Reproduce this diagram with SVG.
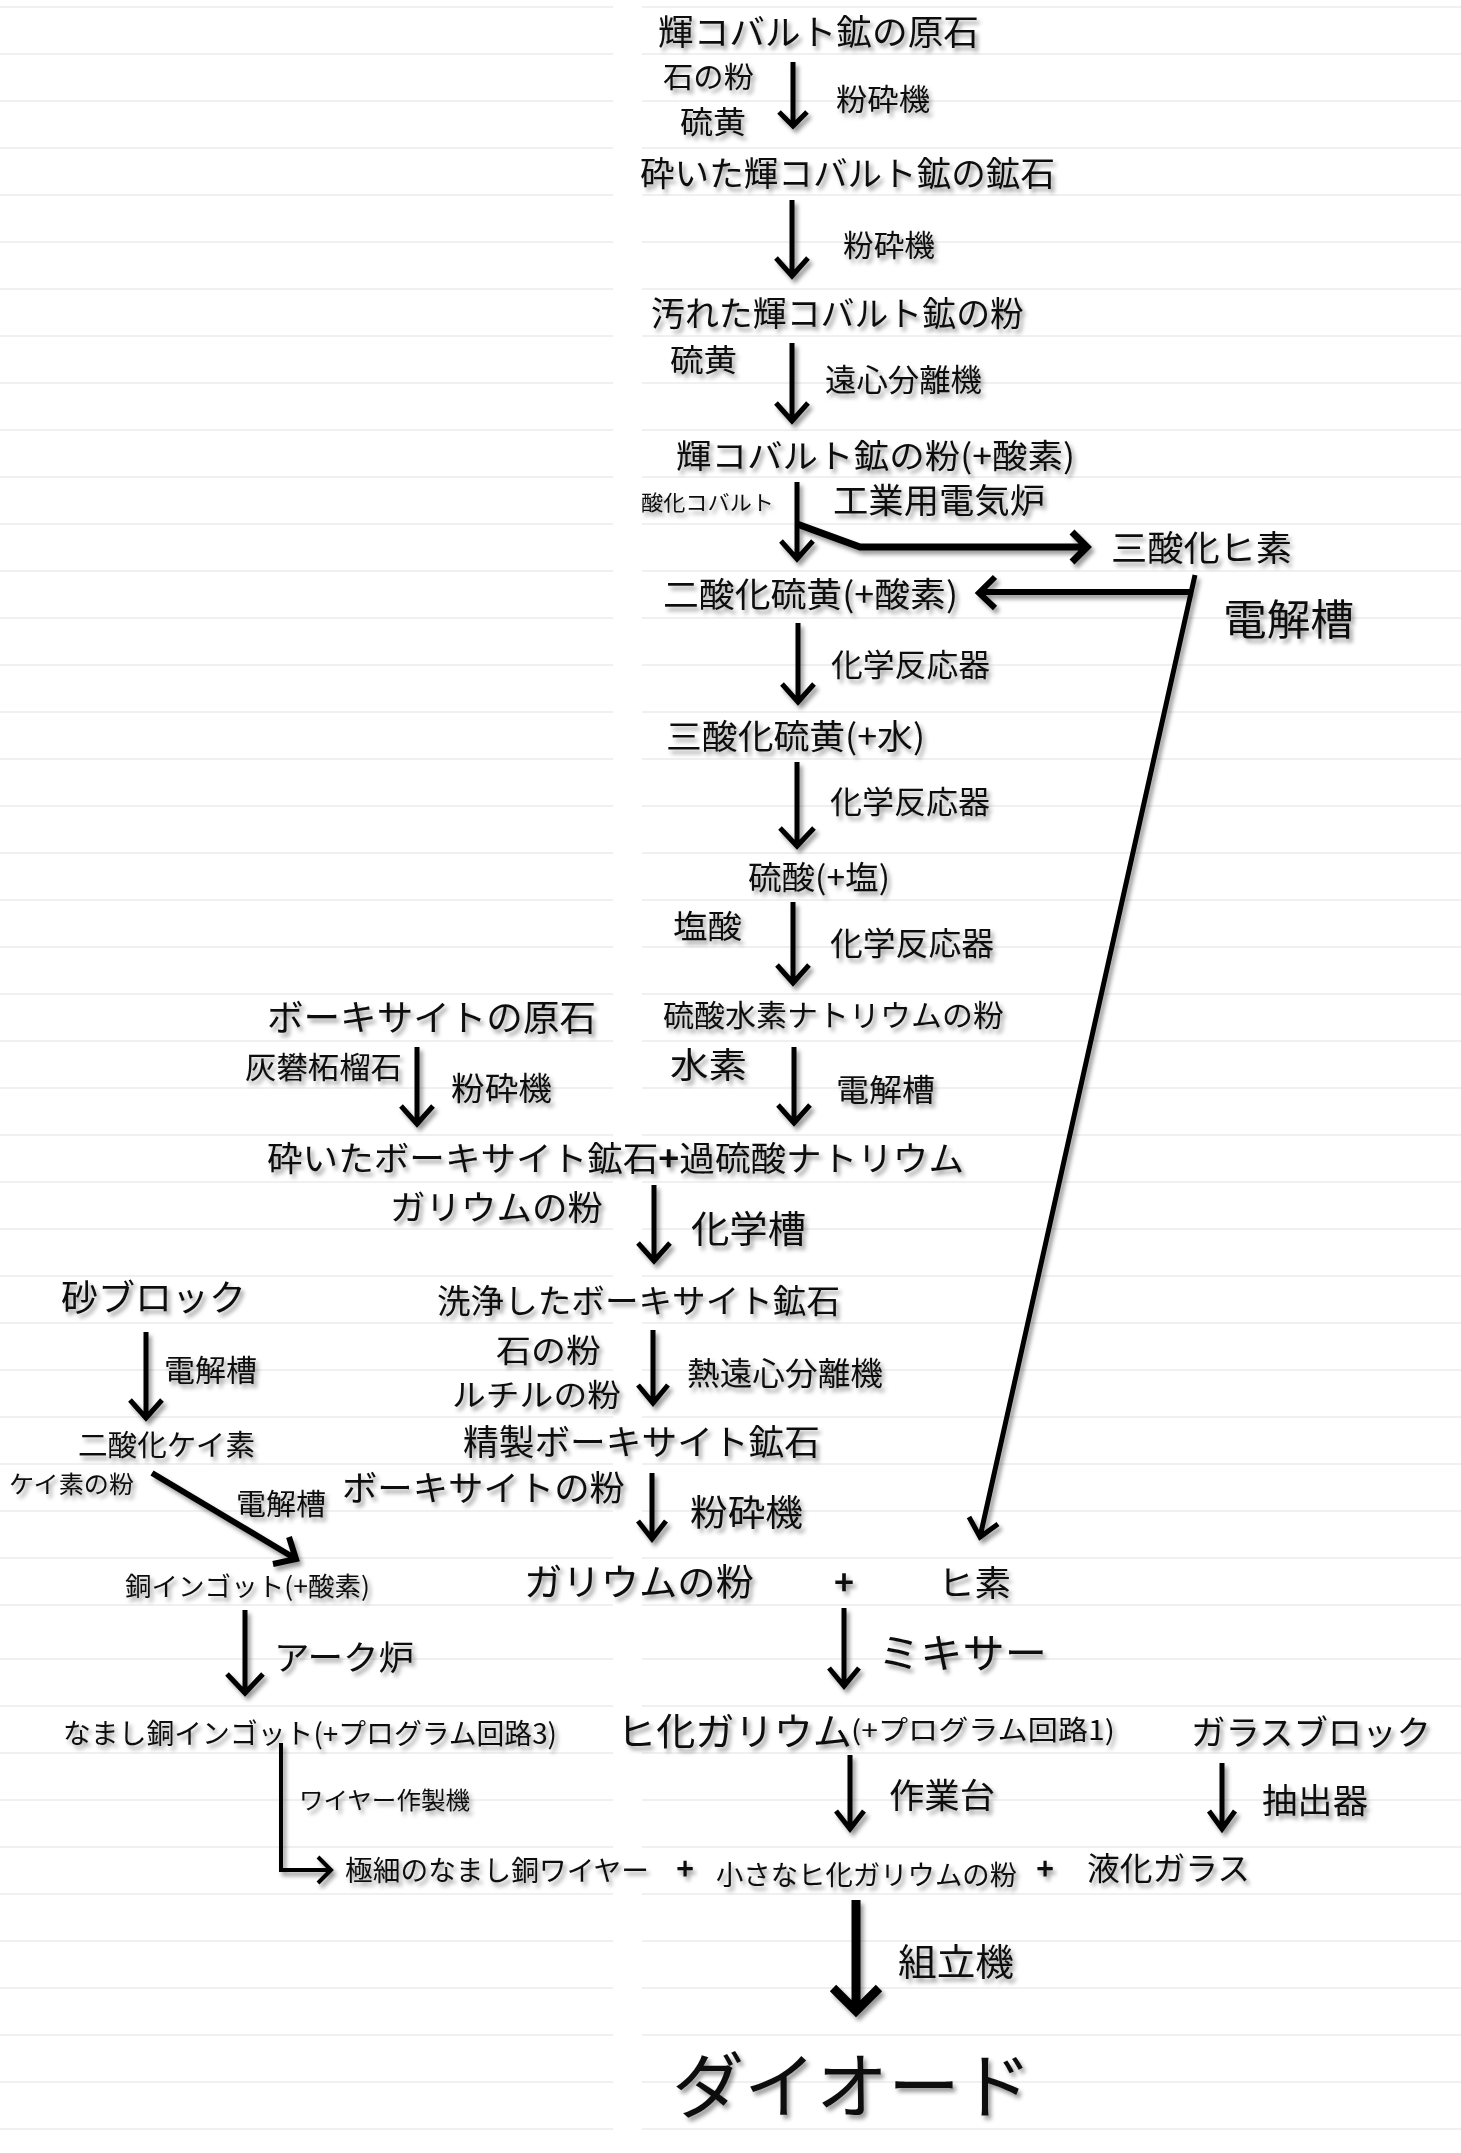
<svg xmlns="http://www.w3.org/2000/svg" width="1461" height="2153" viewBox="0 0 1461 2153">
<defs>
<filter id="sh" x="-20%" y="-20%" width="140%" height="160%">
<feDropShadow dx="3" dy="4" stdDeviation="2.2" flood-color="#000" flood-opacity="0.4"/>
</filter>
<style>
text{font-family:"Noto Sans CJK JP","Noto Sans CJK SC",sans-serif;fill:#111;}
.n{filter:url(#sh);}
.plus{font-weight:bold;text-anchor:middle;}
.b{font-weight:bold;}
.grid line{stroke:#ebebeb;stroke-width:1.6;}
.ar{fill:none;stroke:#000;stroke-width:5;stroke-linejoin:miter;stroke-miterlimit:10;}
</style>
</defs>
<rect width="1461" height="2153" fill="#fff"/>
<g class="grid" id="grid">
<line x1="0" y1="7" x2="613" y2="7"/><line x1="642" y1="7" x2="1461" y2="7"/>
<line x1="0" y1="54" x2="613" y2="54"/><line x1="642" y1="54" x2="1461" y2="54"/>
<line x1="0" y1="101" x2="613" y2="101"/><line x1="642" y1="101" x2="1461" y2="101"/>
<line x1="0" y1="148" x2="613" y2="148"/><line x1="642" y1="148" x2="1461" y2="148"/>
<line x1="0" y1="195" x2="613" y2="195"/><line x1="642" y1="195" x2="1461" y2="195"/>
<line x1="0" y1="242" x2="613" y2="242"/><line x1="642" y1="242" x2="1461" y2="242"/>
<line x1="0" y1="289" x2="613" y2="289"/><line x1="642" y1="289" x2="1461" y2="289"/>
<line x1="0" y1="336" x2="613" y2="336"/><line x1="642" y1="336" x2="1461" y2="336"/>
<line x1="0" y1="383" x2="613" y2="383"/><line x1="642" y1="383" x2="1461" y2="383"/>
<line x1="0" y1="430" x2="613" y2="430"/><line x1="642" y1="430" x2="1461" y2="430"/>
<line x1="0" y1="477" x2="613" y2="477"/><line x1="642" y1="477" x2="1461" y2="477"/>
<line x1="0" y1="524" x2="613" y2="524"/><line x1="642" y1="524" x2="1461" y2="524"/>
<line x1="0" y1="571" x2="613" y2="571"/><line x1="642" y1="571" x2="1461" y2="571"/>
<line x1="0" y1="618" x2="613" y2="618"/><line x1="642" y1="618" x2="1461" y2="618"/>
<line x1="0" y1="665" x2="613" y2="665"/><line x1="642" y1="665" x2="1461" y2="665"/>
<line x1="0" y1="712" x2="613" y2="712"/><line x1="642" y1="712" x2="1461" y2="712"/>
<line x1="0" y1="759" x2="613" y2="759"/><line x1="642" y1="759" x2="1461" y2="759"/>
<line x1="0" y1="806" x2="613" y2="806"/><line x1="642" y1="806" x2="1461" y2="806"/>
<line x1="0" y1="853" x2="613" y2="853"/><line x1="642" y1="853" x2="1461" y2="853"/>
<line x1="0" y1="900" x2="613" y2="900"/><line x1="642" y1="900" x2="1461" y2="900"/>
<line x1="0" y1="947" x2="613" y2="947"/><line x1="642" y1="947" x2="1461" y2="947"/>
<line x1="0" y1="994" x2="613" y2="994"/><line x1="642" y1="994" x2="1461" y2="994"/>
<line x1="0" y1="1041" x2="613" y2="1041"/><line x1="642" y1="1041" x2="1461" y2="1041"/>
<line x1="0" y1="1088" x2="613" y2="1088"/><line x1="642" y1="1088" x2="1461" y2="1088"/>
<line x1="0" y1="1135" x2="613" y2="1135"/><line x1="642" y1="1135" x2="1461" y2="1135"/>
<line x1="0" y1="1182" x2="613" y2="1182"/><line x1="642" y1="1182" x2="1461" y2="1182"/>
<line x1="0" y1="1229" x2="613" y2="1229"/><line x1="642" y1="1229" x2="1461" y2="1229"/>
<line x1="0" y1="1276" x2="613" y2="1276"/><line x1="642" y1="1276" x2="1461" y2="1276"/>
<line x1="0" y1="1323" x2="613" y2="1323"/><line x1="642" y1="1323" x2="1461" y2="1323"/>
<line x1="0" y1="1370" x2="613" y2="1370"/><line x1="642" y1="1370" x2="1461" y2="1370"/>
<line x1="0" y1="1417" x2="613" y2="1417"/><line x1="642" y1="1417" x2="1461" y2="1417"/>
<line x1="0" y1="1464" x2="613" y2="1464"/><line x1="642" y1="1464" x2="1461" y2="1464"/>
<line x1="0" y1="1511" x2="613" y2="1511"/><line x1="642" y1="1511" x2="1461" y2="1511"/>
<line x1="0" y1="1558" x2="613" y2="1558"/><line x1="642" y1="1558" x2="1461" y2="1558"/>
<line x1="0" y1="1605" x2="613" y2="1605"/><line x1="642" y1="1605" x2="1461" y2="1605"/>
<line x1="0" y1="1659" x2="613" y2="1659"/><line x1="642" y1="1659" x2="1461" y2="1659"/>
<line x1="0" y1="1706" x2="613" y2="1706"/><line x1="642" y1="1706" x2="1461" y2="1706"/>
<line x1="0" y1="1753" x2="613" y2="1753"/><line x1="642" y1="1753" x2="1461" y2="1753"/>
<line x1="0" y1="1800" x2="613" y2="1800"/><line x1="642" y1="1800" x2="1461" y2="1800"/>
<line x1="0" y1="1847" x2="613" y2="1847"/><line x1="642" y1="1847" x2="1461" y2="1847"/>
<line x1="0" y1="1894" x2="613" y2="1894"/><line x1="642" y1="1894" x2="1461" y2="1894"/>
<line x1="0" y1="1941" x2="613" y2="1941"/><line x1="642" y1="1941" x2="1461" y2="1941"/>
<line x1="0" y1="1988" x2="613" y2="1988"/><line x1="642" y1="1988" x2="1461" y2="1988"/>
<line x1="0" y1="2035" x2="613" y2="2035"/><line x1="642" y1="2035" x2="1461" y2="2035"/>
<line x1="0" y1="2082" x2="613" y2="2082"/><line x1="642" y1="2082" x2="1461" y2="2082"/>
<line x1="0" y1="2129" x2="613" y2="2129"/><line x1="642" y1="2129" x2="1461" y2="2129"/>
</g>

<g id="connectors" class="n">
<path class="ar" d="M793 62 V126 M779 112 L793 126 L807 112"/>
<path class="ar" d="M792 200 V276 M776 258 L792 276 L808 258"/>
<path class="ar" d="M792 343 V421 M776 403 L792 421 L808 403"/>
<path class="ar" d="M797 482 V559 M781 541 L797 559 L813 541"/>
<path class="ar" style="stroke-width:7" d="M797 524 L860 547 H1087 M1072 532 L1087 547 L1072 562"/>
<path class="ar" d="M1195 575 L980 1537 M969 1517 L980 1537 L998 1524"/>
<path class="ar" style="stroke-width:6" d="M1191 592 H979 M995 577 L979 593 L995 608"/>
<path class="ar" d="M798 623 V702 M782 684 L798 702 L814 684"/>
<path class="ar" d="M797 762 V846 M780 828 L797 846 L814 828"/>
<path class="ar" d="M793 902 V983 M777 965 L793 983 L809 965"/>
<path class="ar" d="M794 1047 V1123 M778 1105 L794 1123 L810 1105"/>
<path class="ar" d="M417 1047 V1124 M401 1106 L417 1124 L433 1106"/>
<path class="ar" d="M654 1185 V1261 M638 1243 L654 1261 L670 1243"/>
<path class="ar" d="M146 1332 V1418 M130 1400 L146 1418 L162 1400"/>
<path class="ar" d="M653 1330 V1403 M638 1385 L653 1403 L668 1385"/>
<path class="ar" d="M652 1473 V1539 M638 1521 L652 1539 L666 1521"/>
<path class="ar" style="stroke-width:6" d="M152 1473 L296 1559 M273 1564 L296 1559 L289 1537"/>
<path class="ar" d="M245 1610 V1693 M227 1674 L245 1693 L263 1674"/>
<path class="ar" d="M844 1608 V1686 M829 1668 L844 1686 L859 1668"/>
<path class="ar" style="stroke-width:4" d="M281 1743 V1870 H330 M318 1857 L331 1870 L318 1883"/>
<path class="ar" d="M850 1755 V1829 M836 1811 L850 1829 L864 1811"/>
<path class="ar" d="M1222 1763 V1829 M1209 1811 L1222 1829 L1235 1811"/>
<path class="ar" style="stroke-width:9" d="M856 1900 V2011 M833 1988 L856 2011 L879 1988"/>
</g>

<g id="n-kiko-genseki" class="n"><text x="658" y="45" font-size="35" textLength="321" lengthAdjust="spacingAndGlyphs">輝コバルト鉱の原石</text></g>
<g id="l-ishinokona1" class="n"><text x="663" y="88" font-size="29" textLength="91" lengthAdjust="spacingAndGlyphs">石の粉</text></g>
<g id="l-iou1" class="n"><text x="680" y="133" font-size="31" textLength="66" lengthAdjust="spacingAndGlyphs">硫黄</text></g>
<g id="l-funsaiki1" class="n"><text x="836" y="110" font-size="30" textLength="94" lengthAdjust="spacingAndGlyphs">粉砕機</text></g>
<g id="n-kudaita-kiko" class="n"><text x="640" y="186" font-size="34" textLength="415" lengthAdjust="spacingAndGlyphs">砕いた輝コバルト鉱の鉱石</text></g>
<g id="l-funsaiki2" class="n"><text x="843" y="256" font-size="30" textLength="92" lengthAdjust="spacingAndGlyphs">粉砕機</text></g>
<g id="n-yogoreta-kiko" class="n"><text x="651" y="326" font-size="34" textLength="373" lengthAdjust="spacingAndGlyphs">汚れた輝コバルト鉱の粉</text></g>
<g id="l-iou2" class="n"><text x="670" y="371" font-size="31" textLength="67" lengthAdjust="spacingAndGlyphs">硫黄</text></g>
<g id="l-enshin" class="n"><text x="825" y="391" font-size="31" textLength="157" lengthAdjust="spacingAndGlyphs">遠心分離機</text></g>
<g id="n-kiko-kona" class="n"><text x="676" y="468" font-size="33" textLength="399" lengthAdjust="spacingAndGlyphs">輝コバルト鉱の粉(+酸素)</text></g>
<g id="l-sankacobalt" class="n"><text x="641" y="510" font-size="21" textLength="133" lengthAdjust="spacingAndGlyphs">酸化コバルト</text></g>
<g id="l-denkiro" class="n"><text x="833" y="513" font-size="34" textLength="212" lengthAdjust="spacingAndGlyphs">工業用電気炉</text></g>
<g id="n-sansanka-hiso" class="n"><text x="1111" y="561" font-size="35" textLength="181" lengthAdjust="spacingAndGlyphs">三酸化ヒ素</text></g>
<g id="n-nisanka-iou" class="n"><text x="663" y="607" font-size="34" textLength="295" lengthAdjust="spacingAndGlyphs">二酸化硫黄(+酸素)</text></g>
<g id="l-denkaisou-big" class="n"><text x="1223" y="635" font-size="42" textLength="131" lengthAdjust="spacingAndGlyphs">電解槽</text></g>
<g id="l-kagaku1" class="n"><text x="831" y="676" font-size="31" textLength="159" lengthAdjust="spacingAndGlyphs">化学反応器</text></g>
<g id="n-sansanka-iou" class="n"><text x="666" y="749" font-size="34" textLength="259" lengthAdjust="spacingAndGlyphs">三酸化硫黄(+水)</text></g>
<g id="l-kagaku2" class="n"><text x="830" y="813" font-size="31" textLength="160" lengthAdjust="spacingAndGlyphs">化学反応器</text></g>
<g id="n-ryusan" class="n"><text x="748" y="889" font-size="32" textLength="142" lengthAdjust="spacingAndGlyphs">硫酸(+塩)</text></g>
<g id="l-ensan" class="n"><text x="673" y="938" font-size="32" textLength="69" lengthAdjust="spacingAndGlyphs">塩酸</text></g>
<g id="l-kagaku3" class="n"><text x="830" y="955" font-size="32" textLength="164" lengthAdjust="spacingAndGlyphs">化学反応器</text></g>
<g id="n-ryusansuiso" class="n"><text x="663" y="1026" font-size="30" textLength="341" lengthAdjust="spacingAndGlyphs">硫酸水素ナトリウムの粉</text></g>
<g id="l-suiso" class="n"><text x="670" y="1078" font-size="35" textLength="77" lengthAdjust="spacingAndGlyphs">水素</text></g>
<g id="l-denkaisou2" class="n"><text x="836" y="1101" font-size="31" textLength="99" lengthAdjust="spacingAndGlyphs">電解槽</text></g>
<g id="n-bauxite-genseki" class="n"><text x="267" y="1031" font-size="36" textLength="329" lengthAdjust="spacingAndGlyphs">ボーキサイトの原石</text></g>
<g id="l-grossular" class="n"><text x="245" y="1078" font-size="30" textLength="157" lengthAdjust="spacingAndGlyphs">灰礬柘榴石</text></g>
<g id="l-funsaiki3" class="n"><text x="451" y="1100" font-size="32" textLength="101" lengthAdjust="spacingAndGlyphs">粉砕機</text></g>
<g id="n-kudaita-bauxite" class="n"><text x="267" y="1171" font-size="34" textLength="697" lengthAdjust="spacingAndGlyphs">砕いたボーキサイト鉱石<tspan class="b">+</tspan>過硫酸ナトリウム</text></g>
<g id="l-gallium1" class="n"><text x="390" y="1220" font-size="34" textLength="213" lengthAdjust="spacingAndGlyphs">ガリウムの粉</text></g>
<g id="l-kagakusou" class="n"><text x="691" y="1243" font-size="37" textLength="115" lengthAdjust="spacingAndGlyphs">化学槽</text></g>
<g id="n-suna" class="n"><text x="61" y="1311" font-size="36" textLength="185" lengthAdjust="spacingAndGlyphs">砂ブロック</text></g>
<g id="n-senjou-bauxite" class="n"><text x="437" y="1313" font-size="33" textLength="403" lengthAdjust="spacingAndGlyphs">洗浄したボーキサイト鉱石</text></g>
<g id="l-denkaisou3" class="n"><text x="164" y="1381" font-size="30" textLength="93" lengthAdjust="spacingAndGlyphs">電解槽</text></g>
<g id="l-ishinokona2" class="n"><text x="496" y="1362" font-size="32" textLength="105" lengthAdjust="spacingAndGlyphs">石の粉</text></g>
<g id="l-rutile" class="n"><text x="452" y="1406" font-size="31" textLength="169" lengthAdjust="spacingAndGlyphs">ルチルの粉</text></g>
<g id="l-netsuenshin" class="n"><text x="687" y="1385" font-size="32" textLength="196" lengthAdjust="spacingAndGlyphs">熱遠心分離機</text></g>
<g id="n-nisanka-keiso" class="n"><text x="78" y="1456" font-size="29" textLength="177" lengthAdjust="spacingAndGlyphs">二酸化ケイ素</text></g>
<g id="n-seisei-bauxite" class="n"><text x="463" y="1455" font-size="35" textLength="357" lengthAdjust="spacingAndGlyphs">精製ボーキサイト鉱石</text></g>
<g id="l-keisonokona" class="n"><text x="9" y="1493" font-size="24" textLength="125" lengthAdjust="spacingAndGlyphs">ケイ素の粉</text></g>
<g id="l-denkaisou4" class="n"><text x="236" y="1515" font-size="29" textLength="90" lengthAdjust="spacingAndGlyphs">電解槽</text></g>
<g id="l-bauxitenokona" class="n"><text x="342" y="1501" font-size="35" textLength="283" lengthAdjust="spacingAndGlyphs">ボーキサイトの粉</text></g>
<g id="l-funsaiki4" class="n"><text x="690" y="1526" font-size="36" textLength="113" lengthAdjust="spacingAndGlyphs">粉砕機</text></g>
<g id="n-dou-ingot" class="n"><text x="125" y="1596" font-size="26" textLength="245" lengthAdjust="spacingAndGlyphs">銅インゴット(+酸素)</text></g>
<g id="n-gallium2" class="n"><text x="524" y="1596" font-size="37" textLength="230" lengthAdjust="spacingAndGlyphs">ガリウムの粉</text></g>
<g id="p-plus1" class="n"><text class="plus" x="844" y="1595" font-size="34">+</text></g>
<g id="n-hiso" class="n"><text x="938" y="1596" font-size="35" textLength="73" lengthAdjust="spacingAndGlyphs">ヒ素</text></g>
<g id="l-arc" class="n"><text x="274" y="1670" font-size="34" textLength="140" lengthAdjust="spacingAndGlyphs">アーク炉</text></g>
<g id="l-mixer" class="n"><text x="878" y="1668" font-size="41" textLength="169" lengthAdjust="spacingAndGlyphs">ミキサー</text></g>
<g id="n-namashi-ingot" class="n"><text x="63" y="1744" font-size="28" textLength="494" lengthAdjust="spacingAndGlyphs">なまし銅インゴット(+プログラム回路3)</text></g>
<g id="n-hika-gallium" class="n"><text x="617" y="1745" font-size="38" textLength="235" lengthAdjust="spacingAndGlyphs">ヒ化ガリウム</text><text x="851" y="1740" font-size="27" textLength="264" lengthAdjust="spacingAndGlyphs">(+プログラム回路1)</text></g>
<g id="n-glass-block" class="n"><text x="1191" y="1745" font-size="34" textLength="240" lengthAdjust="spacingAndGlyphs">ガラスブロック</text></g>
<g id="l-wire" class="n"><text x="299" y="1809" font-size="24" textLength="171" lengthAdjust="spacingAndGlyphs">ワイヤー作製機</text></g>
<g id="l-sagyoudai" class="n"><text x="889" y="1808" font-size="34" textLength="106" lengthAdjust="spacingAndGlyphs">作業台</text></g>
<g id="l-chushutsu" class="n"><text x="1262" y="1813" font-size="34" textLength="106" lengthAdjust="spacingAndGlyphs">抽出器</text></g>
<g id="n-gokuboso-wire" class="n"><text x="345" y="1881" font-size="28" textLength="304" lengthAdjust="spacingAndGlyphs">極細のなまし銅ワイヤー</text></g>
<g id="p-plus2" class="n"><text class="plus" x="685" y="1880" font-size="30">+</text></g>
<g id="n-chiisana" class="n"><text x="716" y="1885" font-size="27" textLength="301" lengthAdjust="spacingAndGlyphs">小さなヒ化ガリウムの粉</text></g>
<g id="p-plus3" class="n"><text class="plus" x="1045" y="1880" font-size="30">+</text></g>
<g id="n-ekika-glass" class="n"><text x="1087" y="1880" font-size="32" textLength="163" lengthAdjust="spacingAndGlyphs">液化ガラス</text></g>
<g id="l-kumitate" class="n"><text x="898" y="1976" font-size="37" textLength="116" lengthAdjust="spacingAndGlyphs">組立機</text></g>
<g id="n-diode" class="n"><text x="672" y="2112" font-size="72" textLength="360" lengthAdjust="spacingAndGlyphs">ダイオード</text></g>
</svg>
